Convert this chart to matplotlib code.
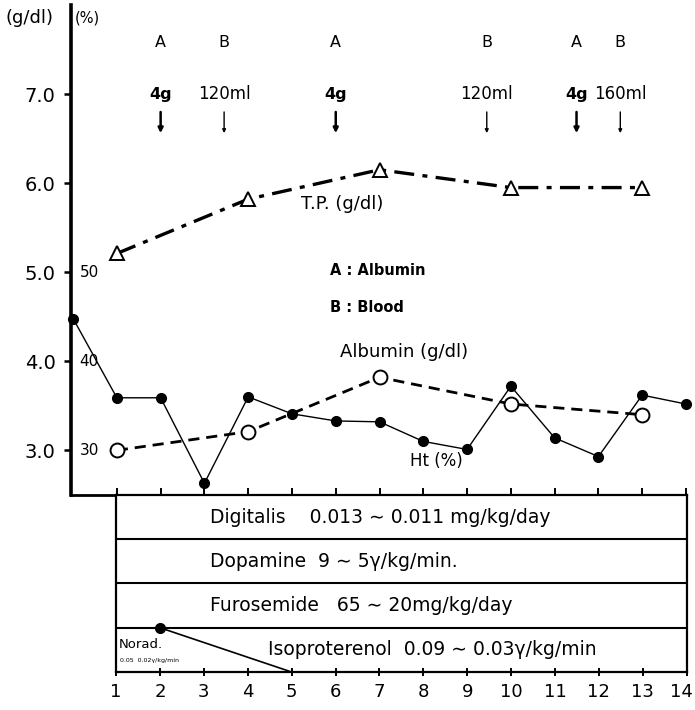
import matplotlib
matplotlib.use("Agg")
import matplotlib.pyplot as plt
from matplotlib.transforms import ScaledTranslation

plt.rcParams['font.family'] = ['DejaVu Sans']

# --- data ---------------------------------------------------------------
ht_days = list(range(0, 15))
ht_pct = [44.8, 35.9, 35.9, 26.3, 36.0, 34.1, 33.3, 33.2, 31.0, 30.1,
          37.2, 31.4, 29.3, 36.2, 35.2]
tp_days = [1, 4, 7, 10, 13]
tp = [5.21, 5.82, 6.15, 5.95, 5.95]
alb_days = [1, 4, 7, 10, 13]
alb = [3.0, 3.21, 3.82, 3.52, 3.40]

dose_days = [2, 3.45, 6, 9.45, 11.5, 12.5]
dose_kind = ["A", "B", "A", "B", "A", "B"]
dose_amt = ["4g", "120ml", "4g", "120ml", "4g", "160ml"]

drugs = ["Digitalis    0.013 ∼ 0.011 mg/kg/day",
         "Dopamine  9 ∼ 5γ/kg/min.",
         "Furosemide   65 ∼ 20mg/kg/day",
         "Isoproterenol  0.09 ∼ 0.03γ/kg/min"]
day_ticks = list(range(1, 15))

fig = plt.figure(figsize=(6.95, 7.10), dpi=100)

# --- upper chart ----------------------------------------------------------
ax = fig.add_axes([0.102, 0.303, 0.885, 0.690])
ax.set_xlim(-0.05, 14.0)
ax.set_ylim(2.5, 8.0)
for s in ("top", "right"):
    ax.spines[s].set_visible(False)
ax.spines["left"].set_linewidth(2.6)
ax.spines["bottom"].set_linewidth(2.0)
ax.set_xticks(day_ticks)
ax.tick_params(axis="x", direction="in", length=5, width=1.4, labelbottom=False)
ax.set_yticks([3, 4, 5, 6, 7])
ax.set_yticklabels(["3.0", "4.0", "5.0", "6.0", "7.0"], fontsize=14)
ax.tick_params(axis="y", direction="out", length=5, width=1.8, pad=6)

for v, lab in [(5, "50"), (4, "40"), (3, "30")]:
    ax.text(0.15, v, lab, fontsize=11, ha="left", va="center")

ax.plot(tp_days, tp, color="black", lw=2.4, ls=(0, (6, 2.5, 1.5, 2.5)),
        marker="^", ms=10, mfc="white", mec="black", mew=1.4, zorder=3)
ax.plot(alb_days, alb, color="black", lw=2.0, ls=(0, (4, 2.5)),
        marker="o", ms=10, mfc="white", mec="black", mew=1.4, zorder=3)
ax.plot(ht_days, [v / 10 for v in ht_pct], color="black", lw=1.0,
        marker="o", ms=7, mfc="black", mec="black", zorder=4, clip_on=False)

for x, k, a in zip(dose_days, dose_kind, dose_amt):
    bold = k == "A"
    ax.text(x, 7.58, k, ha="center", va="center", fontsize=11.5)
    ax.text(x, 7.0, a, ha="center", va="center",
            fontsize=11.5 if bold else 12,
            fontweight="bold" if bold else "normal")
    ax.annotate("", xy=(x, 6.53), xytext=(x, 6.83),
                arrowprops=dict(arrowstyle="-|>", color="black",
                                lw=1.8 if bold else 1.0,
                                mutation_scale=7 if bold else 5))

ax.text(5.2, 5.77, "T.P. (g/dl)", fontsize=13, ha="left", va="center")
ax.text(5.88, 5.02, "A : Albumin", fontsize=10.5, ha="left", va="center",
        fontweight="bold")
ax.text(5.88, 4.6, "B : Blood", fontsize=10.5, ha="left", va="center",
        fontweight="bold")
ax.text(6.1, 4.1, "Albumin (g/dl)", fontsize=13, ha="left", va="center")
ax.text(7.7, 2.88, "Ht (%)", fontsize=12, ha="left", va="center")

fig.text(0.008, 0.975, "(g/dl)", fontsize=13, ha="left", va="center")
fig.text(0.107, 0.975, "(%)", fontsize=10.5, ha="left", va="center")

# --- therapy table --------------------------------------------------------
tb = fig.add_axes([0.167, 0.0535, 0.821, 0.2495])
tb.set_xlim(1, 14)
tb.set_ylim(0, 4)
for s in tb.spines.values():
    s.set_linewidth(1.6)
tb.set_yticks([])
tb.set_xticks(day_ticks)
tb.set_xticklabels([str(d) for d in day_ticks], fontsize=13)
tb.tick_params(axis="x", direction="inout", length=6, width=1.4, pad=5)
last = tb.get_xticklabels()[-1]
last.set_transform(last.get_transform() + ScaledTranslation(-4 / 72, 0, fig.dpi_scale_trans))
for y in (1, 2, 3):
    tb.axhline(y, color="black", lw=1.5)

for i, t in enumerate(drugs):
    x0 = 3.14 if i < 3 else 4.47
    tb.text(x0, 3.5 - i, t, fontsize=13.5, ha="left", va="center")

tb.plot([2, 5], [1, 0], color="black", lw=1.2, clip_on=False)
tb.plot([2], [1], "o", color="black", ms=7, clip_on=False)
tb.text(1.07, 0.63, "Norad.", fontsize=9.5, ha="left", va="center")
tb.text(1.1, 0.25, "0.05  0.02γ/kg/min", fontsize=4.5, ha="left", va="center")

fig.savefig("out.png", dpi=100)
